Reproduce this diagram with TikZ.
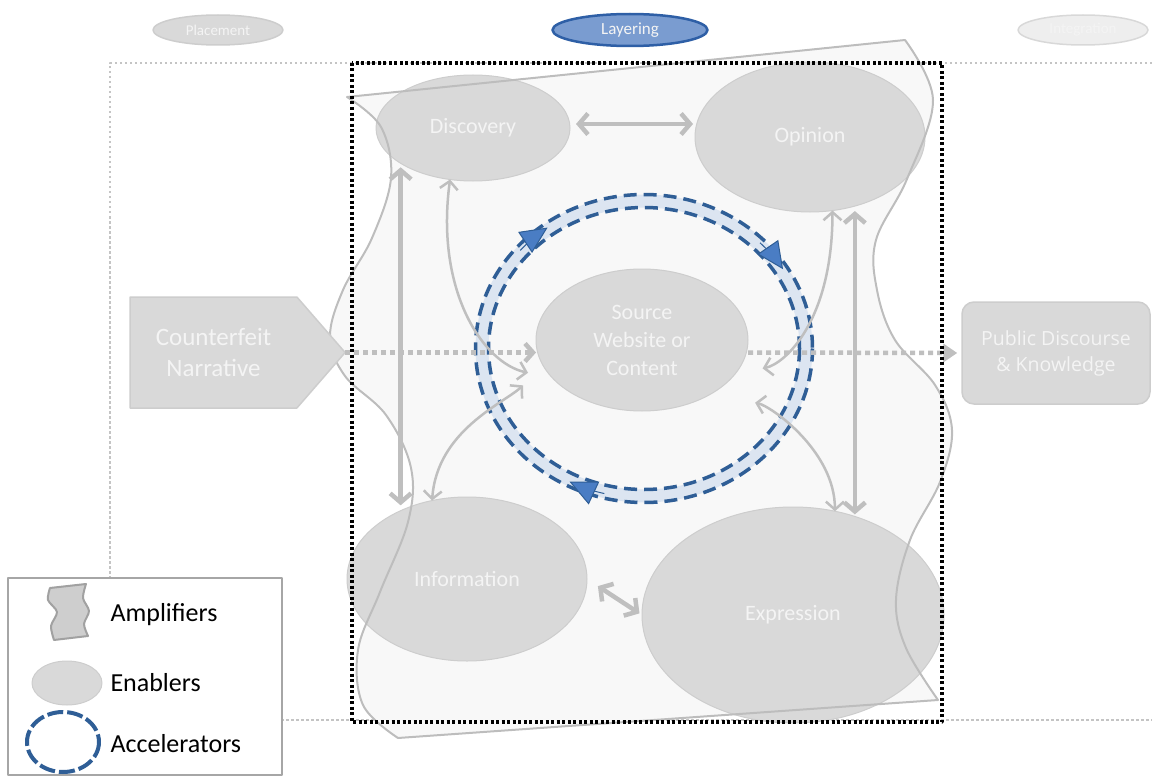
\documentclass[tikz,border=0pt]{standalone}
\usepackage{fontspec}
\setmainfont{Carlito}
\newfontfamily\pdfont{Open Sans}
\usetikzlibrary{arrows.meta, positioning, shapes.geometric, shapes.symbols}

\definecolor{enablerfill}{HTML}{D9D9D9}
\definecolor{enablerline}{HTML}{CDCDCD}
\definecolor{arrowgray}{HTML}{BFBFBF}
\definecolor{ampfill}{HTML}{F8F8F8}
\definecolor{ampline}{HTML}{BDBDBD}
\definecolor{ringlight}{HTML}{DCE5F1}
\definecolor{ringdark}{HTML}{2F5E96}
\definecolor{ringmid}{HTML}{4A7DC4}
\definecolor{layerfill}{HTML}{7A9CD0}
\definecolor{layerline}{HTML}{2E5FA6}
\definecolor{fadefill}{HTML}{EEEEEE}
\definecolor{fadeline}{HTML}{D8D8D8}
\definecolor{legendline}{HTML}{A6A6A6}
\definecolor{dotgray}{HTML}{C4C4C4}
\definecolor{textwhite}{HTML}{F4F4F4}

\begin{document}
\begin{tikzpicture}[x=1pt, y=-1pt, line join=round]

		\useasboundingbox (0,0) rectangle (1152,776);

		%======================
		% STYLES
		%======================
		\tikzset{
			enabler/.style={ellipse, draw=enablerline, fill=enablerfill, line width=1pt,
				inner sep=0pt, outer sep=0pt, text=textwhite, align=center,
				font=\fontsize{22}{28}\selectfont},
			stage/.style={ellipse, draw=enablerline, fill=enablerfill, line width=1.5pt,
				minimum width=130pt, minimum height=30pt, inner sep=0pt, text=textwhite,
				font=\fontsize{15}{17}\selectfont},
			bigarrow/.style={draw=arrowgray, line width=4.5pt,
				{Straight Barb[length=9pt,width=21pt]}-{Straight Barb[length=9pt,width=21pt]}},
			curvearrow/.style={draw=arrowgray, line width=2.5pt,
				{Straight Barb[length=8pt,width=18pt]}-{Straight Barb[length=8pt,width=18pt]}},
			flowdots/.style={draw=arrowgray, line width=4.5pt, line cap=butt, dash pattern=on 5pt off 4pt},
			framedots/.style={draw=black, line width=3.5pt, line cap=butt, dash pattern=on 3pt off 2.5pt},
			outerdots/.style={draw=dotgray, line width=2.5pt, line cap=butt, dash pattern=on 2.5pt off 2.5pt},
			ringband/.style={draw=ringlight, line width=13pt},
			ringdash/.style={draw=ringdark, line width=3.5pt, dash pattern=on 13pt off 7pt},
			ringtip/.style={draw=ringdark, line width=1pt,
				-{Triangle[length=27pt,width=25pt,fill=ringmid]}},
			legendtext/.style={anchor=west, text=black, font=\fontsize{26}{30}\selectfont}
		}

		% Utility: outline of the amplifier field
		\newcommand{\amplifierpath}{(347,97) -- (905,40)
			-- plot[smooth, tension=0.6] coordinates {(905,40) (933,100) (907,179) (876,240)
				(877,290) (895,340) (935,385) (952,430) (940,482) (910,540) (896,600)
				(906,648) (938,700)}
			-- (398,738)
			-- plot[smooth, tension=0.6] coordinates {(398,738) (363,705) (358,650)
				(380,592) (408,522) (411,468) (386,415) (345,376) (330,337) (343,290)
				(372,238) (391,178) (381,127) (347,97)} -- cycle}

		%======================
		% STAGES
		%======================
		\node[stage] (place) at (218,30) {Placement};
		\node[stage, fill=layerfill, draw=layerline, line width=2.5pt, minimum width=155pt,
			minimum height=32pt, font=\fontsize{17}{19}\selectfont] (layer) at (630,30) {Layering};
		\node[stage, fill=fadefill, draw=fadeline] (integ) at (1083,30) {Integration};

		% outer frame
		\draw[outerdots] (1152,63) -- (110,63) -- (110,720) -- (1152,720);

		%======================
		% AMPLIFIER FIELD
		%======================
		\fill[ampfill] \amplifierpath;

		%======================
		% ENABLERS
		%======================
		\node[enabler, minimum width=194pt, minimum height=106pt] (disc) at (473,128) {Discovery};
		\node[enabler, minimum width=230pt, minimum height=150pt] (opin) at (810,137) {Opinion};
		\node[enabler, minimum width=212pt, minimum height=142pt] (src) at (642,340)
			{Source\\Website or\\Content};
		\node[enabler, minimum width=240pt, minimum height=164pt] (info) at (467,579) {Information};
		\node[enabler, minimum width=302pt, minimum height=216pt] (expr) at (793,615) {Expression};

		\draw[ampline, line width=2pt] \amplifierpath;

		%======================
		% IN AND OUT
		%======================
		\node[signal, signal to=east, signal pointer angle=98, fill=enablerfill,
			draw=enablerline, line width=1.5pt, minimum width=215pt, minimum height=111pt,
			inner sep=0pt, outer sep=0pt, text=textwhite, align=center,
			font=\fontsize{25}{31}\selectfont] (cn) at (213.5,352.5) {Counterfeit\\Narrative};
		\node[rectangle, rounded corners=12pt, fill=enablerfill, draw=enablerline,
			line width=1.5pt, minimum width=188pt, minimum height=102pt, inner sep=0pt,
			text=textwhite, align=center, font=\pdfont\fontsize{19.5}{26}\selectfont]
			(pd) at (1056,353) {Public Discourse\\\& Knowledge};

		%======================
		% ACCELERATOR RING
		%======================
		\coordinate (ring) at (644,348.5);
		\draw[ringband] (ring) ellipse [x radius=162, y radius=147.5];
		\draw[ringdash] (ring) ellipse [x radius=168.5, y radius=154];
		\draw[ringdash] (ring) ellipse [x radius=155.5, y radius=141];
		\draw[ringtip] (ring) ++(221:164 and 149.5) arc[start angle=221, end angle=234, x radius=164, y radius=149.5];
		\draw[ringtip] (ring) ++(315:164 and 149.5) arc[start angle=315, end angle=328, x radius=164, y radius=149.5];
		\draw[ringtip] (ring) ++(104:164 and 149.5) arc[start angle=104, end angle=117, x radius=164, y radius=149.5];

		%======================
		% LINKS BETWEEN ENABLERS
		%======================
		\draw[bigarrow, shorten <=6pt, shorten >=2pt] ([yshift=4pt]disc.east) -- ([yshift=4pt]disc.east -| opin.west);
		\draw[bigarrow, shorten <=4pt, shorten >=6pt] (disc.206) -- (disc.206 |- info.135);
		\draw[bigarrow, shorten <=5pt, shorten >=2pt] (opin.303) -- (opin.303 |- expr.58);
		\draw[bigarrow, shorten <=13pt, shorten >=3pt] (info.east) -- (expr.west);

		\draw[curvearrow, shorten >=25pt] (disc.246) .. controls +(-15,110) and +(-70,-15) .. (src.203);
		\draw[curvearrow, shorten >=28pt] (info.114) .. controls +(5,-70) and +(-40,37) .. (src.195);
		\draw[curvearrow, shorten >=28pt] (opin.287) .. controls +(0,110) and +(50,-10) .. (src.340);
		\draw[curvearrow, shorten >=45pt] (expr.68) .. controls +(0,-60) and +(60,12) .. (src.322);

		% narrative flow
		\draw[flowdots, -{Straight Barb[length=8pt,width=18pt]}] (cn.east) -- (cn.east -| src.west);
		\draw[flowdots, -{Triangle[length=14pt,width=18pt]}, shorten >=4pt] (src.east |- cn.east) -- (pd.west);

		% layering frame
		\draw[framedots] (352,63) rectangle (942,722);

		%======================
		% LEGEND
		%======================
		\draw[legendline, fill=white, line width=2.5pt] (8,578) rectangle (282,775);
		\draw[draw=ampline!85!black, fill=enablerfill!95!black, line width=2pt] (50,588) -- (86,584)
			-- plot[smooth] coordinates {(86,584) (83,598) (89,611) (84,624) (88,636)}
			-- (54,640)
			-- plot[smooth] coordinates {(54,640) (51,626) (57,612) (48,600) (50,588)} -- cycle;
		\draw[enablerline, fill=enablerfill, line width=1pt] (67,683) ellipse [x radius=35, y radius=22];
		\draw[ringdark, line width=4pt, dash pattern=on 16pt off 4pt] (63,742) ellipse [x radius=36, y radius=30];
		\node[legendtext] (amptext) at (107,615) {Amplifiers};
		\node[legendtext] (enabtext) at (107,683) {Enablers};
		\node[legendtext] (acctext) at (107,744) {Accelerators};

\end{tikzpicture}
\end{document}
